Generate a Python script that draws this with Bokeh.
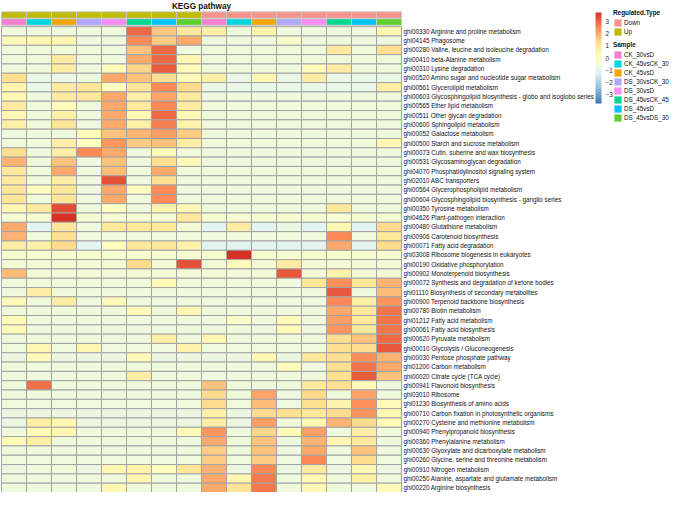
import numpy as np
from bokeh.plotting import figure
from bokeh.models import (ColumnDataSource, LinearColorMapper, ColorBar, FixedTicker,
                          Range1d, Legend, LegendItem, CategoricalColorMapper)
from bokeh.transform import transform
from bokeh.core.properties import value
from bokeh.embed import file_html
from bokeh.resources import INLINE

FONT = "Liberation Sans"

# ---------------- data ----------------
pathway_ids = [
    "ghi00330", "ghi04145", "ghi00280", "ghi00410", "ghi00310", "ghi00520", "ghi00561",
    "ghi00603", "ghi00565", "ghi00511", "ghi00600", "ghi00052", "ghi00500", "ghi00073",
    "ghi00531", "ghi04070", "ghi02010", "ghi00564", "ghi00604", "ghi00350", "ghi04626",
    "ghi00480", "ghi00906", "ghi00071", "ghi03008", "ghi00190", "ghi00902", "ghi00072",
    "ghi01110", "ghi00900", "ghi00780", "ghi01212", "ghi00061", "ghi00620", "ghi00010",
    "ghi00030", "ghi01200", "ghi00020", "ghi00941", "ghi03010", "ghi01230", "ghi00710",
    "ghi00270", "ghi00940", "ghi00360", "ghi00630", "ghi00260", "ghi00910", "ghi00250",
    "ghi00220",
]
pathway_names = [
    "Arginine and proline metabolism", "Phagosome",
    "Valine, leucine and isoleucine degradation", "beta-Alanine metabolism",
    "Lysine degradation", "Amino sugar and nucleotide sugar metabolism",
    "Glycerolipid metabolism", "Glycosphingolipid biosynthesis - globo and isoglobo series",
    "Ether lipid metabolism", "Other glycan degradation", "Sphingolipid metabolism",
    "Galactose metabolism", "Starch and sucrose metabolism",
    "Cutin, suberine and wax biosynthesis", "Glycosaminoglycan degradation",
    "Phosphatidylinositol signaling system", "ABC transporters",
    "Glycerophospholipid metabolism", "Glycosphingolipid biosynthesis - ganglio series",
    "Tyrosine metabolism", "Plant-pathogen interaction", "Glutathione metabolism",
    "Carotenoid biosynthesis", "Fatty acid degradation", "Ribosome biogenesis in eukaryotes",
    "Oxidative phosphorylation", "Monoterpenoid biosynthesis",
    "Synthesis and degradation of ketone bodies", "Biosynthesis of secondary metabolites",
    "Terpenoid backbone biosynthesis", "Biotin metabolism", "Fatty acid metabolism",
    "Fatty acid biosynthesis", "Pyruvate metabolism", "Glycolysis / Gluconeogenesis",
    "Pentose phosphate pathway", "Carbon metabolism", "Citrate cycle (TCA cycle)",
    "Flavonoid biosynthesis", "Ribosome", "Biosynthesis of amino acids",
    "Carbon fixation in photosynthetic organisms", "Cysteine and methionine metabolism",
    "Phenylpropanoid biosynthesis", "Phenylalanine metabolism",
    "Glyoxylate and dicarboxylate metabolism", "Glycine, serine and threonine metabolism",
    "Nitrogen metabolism", "Alanine, aspartate and glutamate metabolism",
    "Arginine biosynthesis",
]

samples = ["CK_30vsD", "CK_45vsCK_30", "CK_45vsD", "DS_30vsCK_30",
           "DS_30vsD", "DS_45vsCK_45", "DS_45vsD", "DS_45vsDS_30"]
sample_colors = ["#F77FD2", "#00D6DF", "#F2A600", "#B2A9FF",
                 "#F98CF3", "#00D98F", "#00C4FA", "#5ED12E"]
regulation_types = ["Down", "Up"]
regulation_colors = ["#F8928A", "#BEBB00"]

column_samples = ["CK_30vsD", "CK_45vsCK_30", "CK_45vsD", "DS_30vsCK_30",
                  "DS_30vsD", "DS_45vsCK_45", "DS_45vsD", "DS_45vsDS_30",
                  "CK_30vsD", "CK_45vsCK_30", "CK_45vsD", "DS_30vsCK_30",
                  "DS_30vsD", "DS_45vsCK_45", "DS_45vsD", "DS_45vsDS_30"]
column_regulation = ["Up", "Up", "Up", "Up", "Up", "Up", "Up", "Up",
                     "Down", "Down", "Down", "Down", "Down", "Down", "Down", "Down"]

colorbar_ticks = [-3, -2, -1, 0, 1, 2, 3]

# row-scaled enrichment scores, one list per pathway (16 columns each)
v_ghi00330 = [-0.6, -0.6, -0.6, -0.6, -0.6, 2.95, 1.6, 0.9, 0.65, -0.6, 0.5, -0.6, -0.6, -0.6, -0.6, 0.35]
v_ghi04145 = [0.15, 0.35, 0.35, -0.6, -0.65, 2.5, 1.5, 2.05, -0.6, -0.6, -0.6, -0.25, -0.6, -0.6, -0.6, -0.65]
v_ghi00280 = [-0.6, -0.6, -0.6, -0.6, -0.6, 1.65, 2.95, -0.6, -0.6, -0.6, -0.6, -0.6, -0.6, 0.85, -0.6, 1.2]
v_ghi00410 = [-0.6, -0.6, 0.8, -0.6, -0.6, 2.05, 2.95, 0.3, -0.6, -0.6, -0.6, -0.6, -0.6, -0.6, -0.6, -0.6]
v_ghi00310 = [-0.6, -0.6, 0.8, -0.6, 0.1, 1.4, 3.1, 0.2, -0.6, -0.6, -0.6, -0.6, 0.2, 0.8, -0.6, -0.6]
v_ghi00520 = [1.2, -0.85, -0.85, -0.65, 2.0, 1.7, 1.2, 0.2, 0.65, -0.85, 0.3, -0.85, 0.7, -0.85, -0.85, -0.85]
v_ghi00561 = [0.4, -0.85, 0.8, 1.0, 0.0, 1.05, 2.5, 1.3, -0.85, -0.85, -0.85, -0.85, -0.85, -0.85, -0.85, 0.7]
v_ghi00603 = [0.3, -0.6, 0.8, 0.95, 2.05, 0.65, 2.1, 0.85, -0.6, -0.6, -0.6, -0.6, -0.6, -0.6, -0.6, -0.6]
v_ghi00565 = [0.8, -0.6, 0.1, -0.6, 2.0, 0.85, 2.5, 0.8, -0.6, -0.6, -0.6, -0.6, -0.6, -0.6, -0.6, -0.6]
v_ghi00511 = [0.35, -0.6, 0.65, -0.6, 2.0, 0.3, 2.95, 0.35, -0.6, -0.6, -0.6, -0.6, -0.6, -0.6, -0.6, -0.6]
v_ghi00600 = [0.65, -0.6, 1.1, -0.6, 2.0, 0.65, 2.65, 0.45, -0.6, -0.6, -0.6, -0.6, -0.6, -0.6, -0.6, -0.6]
v_ghi00052 = [-0.6, -0.6, -0.6, 0.15, 1.65, 1.9, 2.15, 1.5, -0.6, -0.6, -0.6, -0.6, -0.6, -0.6, -0.6, -0.6]
v_ghi00500 = [-0.6, -0.6, 0.7, 0.0, 2.35, 1.55, 1.65, 0.7, -0.6, -0.6, -0.6, -0.6, -0.6, -0.6, -0.6, 0.3]
v_ghi00073 = [1.2, -0.6, 0.65, 2.5, 2.0, -0.6, 0.1, -0.6, -0.6, -0.6, -0.6, -0.6, -0.6, -0.6, -0.6, -0.6]
v_ghi00531 = [1.9, -0.6, 1.7, -0.6, 1.65, -0.6, 1.2, 0.15, -0.6, -0.6, -0.6, -0.6, -0.6, -0.6, -0.6, -0.6]
v_ghi04070 = [0.95, -0.6, 2.05, -0.6, 1.75, -0.6, 2.0, -0.6, -0.6, -0.6, -0.6, -0.6, -0.6, -0.6, -0.6, -0.6]
v_ghi02010 = [0.8, -0.6, 0.7, -0.6, 3.25, -0.6, 1.2, -0.6, -0.6, -0.6, -0.6, -0.6, -0.6, -0.6, -0.6, -0.6]
v_ghi00564 = [1.0, 0.05, 0.9, -0.6, 2.05, 0.05, 2.5, -0.6, -0.6, -0.6, -0.6, -0.6, -0.6, -0.6, -0.6, -0.6]
v_ghi00604 = [1.0, -0.6, 1.0, -0.6, 2.05, -0.6, 2.45, -0.6, -0.6, -0.6, -0.6, -0.6, -0.6, -0.6, -0.6, -0.6]
v_ghi00350 = [0.35, 0.8, 3.3, -0.6, 0.0, -0.6, 0.4, 0.35, -0.6, -0.6, -0.6, -0.6, -0.6, 0.9, -0.6, -0.6]
v_ghi04626 = [-0.4, -0.4, 3.7, -0.4, -0.4, -0.4, -0.4, 0.9, -0.4, -0.4, -0.4, -0.4, -0.4, -0.4, -0.4, -0.4]
v_ghi00480 = [2.0, -1.05, 1.0, -0.6, 0.9, 0.9, 0.95, -0.5, -1.05, 0.8, -1.05, -0.75, -1.05, 0.3, -1.05, 1.3]
v_ghi00906 = [1.85, -0.6, 1.2, -0.6, -0.6, -0.6, -0.6, -0.6, -0.6, -0.6, -0.6, -0.6, -0.6, 2.5, -0.6, 0.9]
v_ghi00071 = [0.7, 0.65, 1.3, -1.05, 0.0, 0.95, 0.95, 0.45, -1.05, -1.05, -1.05, -1.05, -1.05, 2.05, -1.05, 1.3]
v_ghi03008 = [-0.35, -0.35, -0.35, -0.35, -0.35, -0.35, -0.35, -0.35, -0.35, 3.75, -0.35, -0.35, -0.35, -0.35, -0.35, -0.35]
v_ghi00190 = [-0.5, -0.5, -0.5, -0.5, -0.5, 1.3, -0.5, 3.25, -0.5, 0.15, -0.5, 0.8, -0.5, -0.5, -0.5, -0.5]
v_ghi00902 = [1.75, -0.5, -0.5, -0.5, -0.5, -0.5, -0.5, -0.5, -0.5, -0.5, -0.5, 3.15, -0.5, 0.45, -0.5, -0.5]
v_ghi00072 = [-0.6, -0.6, -0.6, -0.6, -0.6, -0.6, 0.2, -0.6, -0.6, -0.6, -0.6, -0.6, 1.0, 2.4, 1.0, 1.9]
v_ghi01110 = [-0.6, 0.7, -0.6, -0.6, -0.6, -0.6, -0.6, -0.6, -0.6, -0.6, -0.6, -0.6, -0.6, 3.15, -0.6, 1.75]
v_ghi00900 = [0.2, -0.6, 0.7, -0.6, 0.2, -0.6, -0.6, -0.6, -0.6, -0.6, -0.6, -0.6, -0.6, 2.45, 0.65, 2.3]
v_ghi00780 = [-0.6, -0.6, -0.6, -0.6, -0.6, 0.2, -0.6, 0.3, -0.6, -0.6, -0.6, -0.6, -0.6, 2.05, 0.9, 2.8]
v_ghi01212 = [0.2, -0.6, -0.6, -0.6, -0.6, -0.6, -0.6, -0.6, -0.6, -0.2, -0.6, 0.2, -0.6, 2.15, 0.85, 2.8]
v_ghi00061 = [0.2, -0.6, -0.6, -0.6, -0.6, -0.6, -0.6, -0.6, -0.6, -0.6, -0.6, 0.2, -0.6, 2.35, 0.9, 2.8]
v_ghi00620 = [-0.6, -0.6, -0.6, -0.6, -0.6, -0.6, 0.7, -0.6, 0.3, -0.6, -0.6, -0.6, -0.6, 1.25, 1.65, 2.95]
v_ghi00010 = [-0.6, 0.35, -0.6, 0.35, -0.6, -0.6, -0.6, 0.45, -0.6, -0.6, -0.6, -0.6, -0.6, 1.25, 1.3, 3.15]
v_ghi00030 = [-0.8, 0.2, -0.8, -0.8, -0.8, 0.2, -0.8, -0.8, -0.8, -0.8, 0.3, -0.8, 0.9, 1.25, 2.4, 1.85]
v_ghi01200 = [-0.6, -0.6, -0.6, -0.6, -0.6, -0.6, -0.6, -0.6, -0.6, -0.6, -0.6, 0.2, -0.6, 1.25, 2.75, 2.05]
v_ghi00020 = [-0.6, -0.6, -0.6, -0.6, -0.6, 0.7, -0.6, -0.6, -0.6, -0.6, -0.6, -0.6, -0.6, 1.25, 3.1, 1.65]
v_ghi00941 = [-0.6, 2.85, -0.6, -0.6, -0.6, -0.6, -0.6, -0.6, 1.65, -0.6, -0.6, -0.6, 0.9, 1.2, 0.15, -0.6]
v_ghi03010 = [-0.6, -0.6, -0.6, -0.6, -0.6, -0.6, -0.6, -0.6, 1.3, -0.6, 2.1, -0.6, 1.3, -0.6, 2.1, -0.6]
v_ghi01230 = [-0.6, -0.6, -0.6, -0.6, -0.6, -0.6, -0.6, -0.6, 1.3, -0.6, 1.75, -0.6, 1.25, 0.4, 2.4, 0.15]
v_ghi00710 = [-0.75, -0.75, -0.75, -0.75, -0.75, -0.75, -0.75, -0.75, 0.55, -0.75, 1.3, 1.15, 0.95, 1.3, 2.35, 0.3]
v_ghi00270 = [-0.75, 0.7, 0.3, -0.75, -0.75, -0.75, -0.75, -0.75, 0.7, -0.75, 2.2, -0.6, 0.3, 1.85, 1.3, 0.2]
v_ghi00940 = [-0.6, 0.2, 0.3, -0.6, -0.6, -0.6, -0.6, 0.2, 2.35, -0.6, 1.35, 0.15, 2.15, -0.6, 0.7, -0.6]
v_ghi00360 = [0.2, 0.65, -0.6, -0.6, -0.6, -0.6, -0.6, -0.6, 2.05, -0.6, 1.65, -0.6, 1.85, 0.35, 0.9, -0.6]
v_ghi00630 = [-0.6, -0.6, -0.6, -0.6, -0.6, -0.6, -0.6, -0.6, 1.5, -0.6, 1.65, -0.6, 2.0, -0.6, 1.7, -0.6]
v_ghi00260 = [-0.6, -0.6, -0.6, -0.6, -0.6, -0.6, -0.6, -0.6, 1.55, -0.6, 1.55, -0.6, 2.5, -0.6, 1.3, -0.6]
v_ghi00910 = [-0.75, -0.6, -0.6, -0.75, 0.35, 0.45, 0.05, 1.0, 1.85, -0.75, 2.45, -0.75, 0.8, -0.75, 0.35, -0.75]
v_ghi00250 = [-0.6, -0.6, -0.6, -0.6, -0.6, 0.35, -0.6, -0.6, 2.05, 0.35, 2.7, -0.6, 0.35, -0.6, 0.65, -0.6]
v_ghi00220 = [-0.6, -0.6, -0.6, -0.6, 0.35, -0.6, -0.6, -0.6, 2.05, 1.0, 2.7, -0.6, 0.35, -0.6, -0.6, 0.2]

rows = [
    v_ghi00330, v_ghi04145, v_ghi00280, v_ghi00410, v_ghi00310, v_ghi00520, v_ghi00561,
    v_ghi00603, v_ghi00565, v_ghi00511, v_ghi00600, v_ghi00052, v_ghi00500, v_ghi00073,
    v_ghi00531, v_ghi04070, v_ghi02010, v_ghi00564, v_ghi00604, v_ghi00350, v_ghi04626,
    v_ghi00480, v_ghi00906, v_ghi00071, v_ghi03008, v_ghi00190, v_ghi00902, v_ghi00072,
    v_ghi01110, v_ghi00900, v_ghi00780, v_ghi01212, v_ghi00061, v_ghi00620, v_ghi00010,
    v_ghi00030, v_ghi01200, v_ghi00020, v_ghi00941, v_ghi03010, v_ghi01230, v_ghi00710,
    v_ghi00270, v_ghi00940, v_ghi00360, v_ghi00630, v_ghi00260, v_ghi00910, v_ghi00250,
    v_ghi00220,
]

# ---------------- palette (reversed RdYlBu, 100 steps) ----------------
anchors = ["#4575b4", "#91bfdb", "#e0f3f8", "#ffffbf", "#fee090", "#fc8d59", "#d73027"]
def _rgb(h):
    return np.array([int(h[i:i + 2], 16) for i in (1, 3, 5)], dtype=float)
anc = np.array([_rgb(h) for h in anchors])
pos = np.linspace(0, 1, len(anchors))
palette = []
for t in np.linspace(0, 1, 100):
    c = [np.interp(t, pos, anc[:, k]) for k in range(3)]
    palette.append("#%02x%02x%02x" % tuple(int(round(v)) for v in c))

mapper = LinearColorMapper(palette=palette, low=-3.7, high=3.7)

n_rows = len(pathway_ids)
n_cols = len(column_samples)

# ---------------- figure ----------------
p = figure(width=669, height=492, x_range=Range1d(-0.04, 26.72), y_range=Range1d(50, -2.81),
           x_axis_type=None, y_axis_type=None, output_backend="svg",
           toolbar_location=None, min_border=0)
p.grid.visible = False
p.outline_line_color = None
p.background_fill_color = "white"

xs, ys, vals = [], [], []
for r, row in enumerate(rows):
    for c, v in enumerate(row):
        xs.append(c + 0.5)
        ys.append(r + 0.5)
        vals.append(v)
heat_src = ColumnDataSource(dict(x=xs, y=ys, v=vals))
p.rect(x="x", y="y", width=1, height=1, source=heat_src,
       fill_color=transform("v", mapper), line_color="#a3a3a3", line_width=1)

# annotation bars
col_x = [c + 0.5 for c in range(n_cols)]
reg_src = ColumnDataSource(dict(x=col_x, y=[-1.25] * n_cols, t=column_regulation))
samp_src = ColumnDataSource(dict(x=col_x, y=[-0.5] * n_cols, t=column_samples))
reg_cmap = CategoricalColorMapper(factors=regulation_types, palette=regulation_colors)
samp_cmap = CategoricalColorMapper(factors=samples, palette=sample_colors)
reg_r = p.rect(x="x", y="y", width=1, height=0.68, source=reg_src,
               fill_color=transform("t", reg_cmap), line_color=None)
samp_r = p.rect(x="x", y="y", width=1, height=0.7, source=samp_src,
                fill_color=transform("t", samp_cmap), line_color=None)
p.rect(x="x", y="y", width=1, height=0.68, source=reg_src, fill_color=None,
       line_color="#c8c8c8", line_width=1)
p.rect(x="x", y="y", width=1, height=0.7, source=samp_src, fill_color=None,
       line_color="#c8c8c8", line_width=1)

# row labels
lab_src = ColumnDataSource(dict(
    x=[16.08] * n_rows, y=[r + 0.5 for r in range(n_rows)],
    t=[f"{i} {n}" for i, n in zip(pathway_ids, pathway_names)]))
p.text(x="x", y="y", text="t", source=lab_src, text_font=value(FONT),
       text_font_size="6.3px", text_baseline="middle", text_align="left", text_color="#111111")

# title
p.text(x=[8.0], y=[-2.2], text=["KEGG pathway"], text_font=value(FONT),
       text_font_size="8.2px", text_font_style="bold", text_align="center",
       text_baseline="middle", text_color="#111111")

# colour bar
cb = ColorBar(color_mapper=mapper, location=(595, 389), width=6, height=91,
              ticker=FixedTicker(ticks=colorbar_ticks),
              major_label_text_font_size="6.3px", major_label_text_font=FONT,
              major_label_text_color="#222222",
              major_tick_line_color=None, minor_tick_line_color=None,
              bar_line_color=None, border_line_color=None,
              background_fill_alpha=0, padding=0, margin=0, label_standoff=4)
p.add_layout(cb, "center")

# legends
leg_common = dict(title_text_font_size="6.4px", title_text_font_style="bold",
                  title_text_font=FONT, label_text_font=FONT, label_text_font_size="6.3px",
                  glyph_width=9, glyph_height=9, label_height=9, label_standoff=2,
                  spacing=0, padding=0, margin=0, border_line_color=None,
                  background_fill_alpha=0, title_standoff=2, label_text_color="#111111",
                  title_text_color="#111111")
leg1 = Legend(items=[LegendItem(label=regulation_types[0], renderers=[reg_r], index=8),
                     LegendItem(label=regulation_types[1], renderers=[reg_r], index=0)],
              location=(613, 456), title="Regulated.Type", **leg_common)
leg2 = Legend(items=[LegendItem(label=s, renderers=[samp_r], index=i) for i, s in enumerate(samples)],
              location=(613, 370), title="Sample", **leg_common)
p.add_layout(leg1, "center")
p.add_layout(leg2, "center")

open("out.html", "w").write(file_html(p, INLINE))
